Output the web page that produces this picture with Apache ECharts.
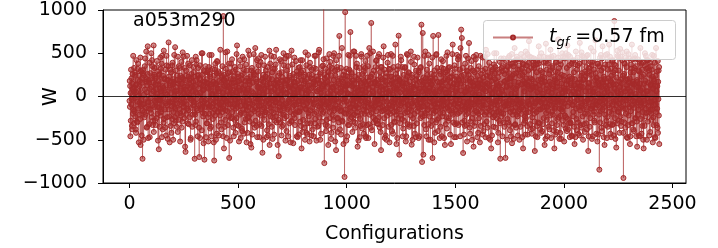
<!DOCTYPE html>
<html>
<head>
<meta charset="utf-8">
<script src="https://cdn.jsdelivr.net/npm/echarts@6/dist/echarts.min.js"></script>
<style>html,body{margin:0;padding:0;background:#fff}#c{width:718px;height:248px}</style>
</head>
<body>
<div id="c"></div>
<script>
// One W value per configuration, starting at configuration 0 (read/estimated from the picture)
const wValues = [
-50,180,-120,120,-460,40,-280,310,-90,210,-30,-340,-380,150,260,90,-200,470,-150,60,-310,330,-170,100,-20,280,-230,250,-380,130,-420,50,420,140,-290,-60,-300,190,320,380,-140,10,60,-530,240,-210,120,-70,180,-260,450,-560,300,-110,290,-40,-450,-90,210,160,
-720,-160,270,310,-90,-500,20,240,-180,-240,350,80,440,-210,-30,-130,170,520,200,-360,50,-350,130,260,580,-70,-480,-60,190,-140,160,-320,390,-470,90,200,270,-150,-20,-190,500,110,30,-240,420,350,-100,-330,-280,160,60,590,-410,250,-120,330,-50,230,-280,140,
-330,210,-60,80,-250,340,410,-120,30,-200,290,-510,140,-40,180,-610,250,-130,260,-350,90,-40,450,-220,320,-180,60,-150,380,-470,470,-90,120,-380,240,-20,100,-300,530,-260,70,200,210,-150,-360,40,310,-80,-450,130,470,360,-240,20,-100,190,-490,190,-60,350,
625,-150,230,-230,100,-530,130,310,-70,-340,170,40,280,-420,-110,-60,360,-260,390,-30,140,-500,200,-180,170,-310,480,-120,60,-240,570,-140,300,-280,110,-40,60,-350,190,240,-80,-200,-410,460,30,150,-270,350,-30,180,-150,330,-90,-520,-190,240,70,90,-220,400,
-360,150,-20,220,-290,510,-80,200,-170,460,-120,40,-250,330,-60,110,-580,190,-640,80,240,300,-200,-90,-140,470,120,50,-310,-10,380,-160,230,-320,20,150,190,-240,360,-20,90,-500,-480,210,-40,260,-130,420,120,-350,60,-210,170,-100,340,-60,280,-70,230,-190,
-720,120,-210,180,-330,460,-290,50,370,420,-140,-30,30,240,-460,-160,330,90,250,-100,-360,-700,150,210,360,-480,40,-90,190,-150,140,-40,500,-390,250,-120,500,-190,70,-230,130,-540,80,300,-60,-730,170,-200,290,-120,350,-40,-470,160,200,-80,-310,-310,280,110,
150,-240,300,-520,90,-130,340,-200,480,-110,260,-370,230,-50,110,-350,140,-460,480,-120,30,20,320,-190,-260,170,-80,170,-530,240,-740,60,-150,310,-220,380,-60,150,-500,130,-20,270,-430,410,-110,400,-170,90,-180,290,-340,60,-450,180,270,-90,-20,-220,540,-140,
90,-300,160,-380,220,-70,240,-180,350,-140,40,-460,930,-110,190,-600,250,-30,190,-350,120,-270,510,-160,320,-60,210,-50,-480,130,520,-170,60,-330,270,-90,110,-230,380,-710,160,20,280,-510,90,-90,200,-250,380,-40,150,-240,430,-180,40,-120,290,200,-360,70,
-460,230,-90,160,-270,340,-30,120,-420,310,-140,50,-250,490,-330,590,-80,170,-120,260,-20,230,-340,100,-520,180,-60,70,-210,420,350,-110,-480,-190,240,30,140,-370,200,-400,90,460,260,-150,-40,-60,310,-430,430,-190,80,-300,130,-100,180,-260,370,-110,40,-530,
300,-160,210,-420,70,-250,90,530,-120,-230,180,-40,480,-290,140,-80,230,-550,210,-10,-200,-590,300,60,330,-440,-90,-150,160,280,40,-320,490,260,-70,-170,-360,250,10,560,-130,-280,-20,200,-60,170,-340,420,-470,110,-150,290,-30,440,-200,360,-110,110,-470,50,
-320,140,-30,400,-220,90,-100,480,-340,190,-60,-150,-650,210,20,250,-500,170,30,-130,360,-270,90,-210,460,-180,230,-180,300,-50,120,-470,140,-390,60,260,340,-110,-450,-40,190,-320,210,-80,530,-560,150,-20,380,-230,100,-130,470,-170,60,-350,200,280,-40,-490,
-240,320,-100,150,-190,460,-440,80,-30,320,-280,140,-70,370,-230,540,-60,190,-300,120,-150,180,-560,50,-20,240,-270,-690,160,-80,270,-120,430,-160,20,-300,410,-200,110,90,-450,280,-350,180,-40,220,-330,70,-110,500,-210,360,-90,-140,-250,150,440,40,-510,130,
190,-80,-230,-400,470,40,300,-150,190,-130,350,-460,470,-40,110,-60,-310,220,240,60,-180,-530,140,-70,120,-290,530,-280,200,-20,370,-120,90,10,-540,260,-210,170,-100,450,-250,30,-330,120,-190,160,-20,410,-90,240,-460,290,-170,50,-470,180,-60,80,330,-440,
-180,260,-50,340,-170,100,-290,420,-130,110,-340,280,-600,40,190,420,-410,-60,-40,300,-270,230,-100,150,-360,90,-20,180,-500,250,510,-140,30,-150,360,-420,70,-80,200,-440,130,-310,480,-190,60,-230,250,-40,130,-520,340,390,-60,-160,-310,210,90,20,-450,310,
250,-130,-40,-380,200,110,150,-460,330,-90,170,-200,470,-70,-310,-260,140,470,320,-30,-180,-510,230,60,60,-350,190,200,-110,-20,-340,510,80,540,-240,150,-120,260,-500,280,-80,40,-430,180,-150,90,-290,350,-200,120,-60,360,-180,430,1150,-40,140,-770,250,-120,
210,-90,320,-330,160,-400,440,-10,-270,-60,230,110,170,-340,40,-560,280,-130,290,-70,490,-180,350,-250,400,-120,60,-20,-490,240,-420,140,-50,330,-210,100,110,-360,470,-270,30,190,500,-160,-40,-140,300,-520,240,-100,120,-620,420,-30,60,-250,340,310,-140,-410,
-250,150,-60,180,-300,470,700,-120,40,-380,210,-170,90,330,-440,-160,60,200,560,-280,110,-290,170,-30,250,-550,140,-60,290,-190,-930,80,-20,975,-150,240,-200,120,-510,320,-60,190,-460,230,40,140,-330,480,30,-200,-90,-330,310,130,470,-130,-260,745,20,-180,
-120,280,-240,260,-40,120,-410,190,-80,180,-290,520,-50,150,-210,520,-140,40,-300,230,-360,90,-110,470,-220,340,-20,380,-180,100,-580,60,-130,200,-510,250,-30,180,-90,330,-470,30,-260,120,-340,150,-50,490,460,-200,80,-370,260,-10,70,-320,190,-150,350,-430,
290,-110,170,-200,330,-60,410,-460,50,-480,140,-170,120,-330,470,-70,220,-120,350,-40,-480,-320,180,90,560,-210,30,-140,500,-90,230,-360,150,850,-80,-190,-390,260,110,60,-150,520,-240,40,-300,300,-120,200,-550,150,-30,170,-270,340,-100,410,-170,420,-60,-310,
-280,190,-40,130,-320,460,-30,150,-240,490,-90,60,-360,280,-130,220,-410,340,-620,110,-20,340,-170,200,-120,30,-330,80,450,-160,580,-60,120,-250,310,-480,180,-10,-150,-450,230,90,270,-500,40,-60,170,-220,390,-130,480,-180,60,-350,40,320,-100,-530,140,230,
310,-200,70,-140,490,-330,230,-60,150,-400,180,-110,470,-430,20,-70,340,-180,160,-290,90,-300,210,-40,600,-120,260,-210,100,-550,80,-170,310,-480,220,-60,350,-250,130,703,-40,180,-672,200,-150,190,-310,50,-100,460,-220,420,-80,-30,-260,150,340,130,-460,80,
-370,160,-70,250,-280,110,-20,330,-190,340,-120,40,-520,200,-460,150,-40,490,-180,230,-320,480,-100,60,-90,280,-150,270,-350,170,-330,90,-10,60,-220,520,400,-160,120,-557,250,-80,220,-500,30,-250,140,-110,110,-340,460,370,-50,-200,-430,190,80,30,-470,300,
200,-60,130,-310,240,-170,450,-90,20,-120,300,-480,280,-140,90,-460,170,-30,90,-250,330,340,-70,-200,830,-120,180,-757,60,-230,734,-40,140,-672,220,-110,160,-330,470,-220,90,-20,520,-190,210,-380,130,-460,70,310,-90,250,-160,40,-150,480,-320,-500,190,60,
380,-230,100,-60,170,-500,210,-20,260,-340,140,-110,140,-280,450,-711,190,-50,700,-160,80,-190,250,-530,300,-90,40,-420,210,-170,60,-300,480,490,-120,20,-270,330,-80,170,-400,120,711,-40,-250,-130,290,60,-480,160,-190,260,-350,90,-50,430,-120,330,-460,170,
-230,120,-40,410,-190,260,-100,320,-480,190,-60,80,-560,210,-140,280,-320,40,-10,470,-240,-370,300,-70,510,-130,190,120,-280,330,-250,50,-160,340,-100,220,-440,160,-20,80,-550,270,230,-60,-190,-160,490,110,600,-210,30,-300,140,-90,150,-470,360,-80,200,-320,
320,-150,60,-470,230,-30,90,-310,480,-200,140,-120,430,-80,200,-330,460,-190,180,-40,310,-40,-460,150,560,-170,70,773,-110,240,676,-300,20,-100,330,-150,-653,180,-60,250,-440,110,-280,50,-340,380,-140,190,-120,470,-210,60,-330,300,-520,100,-70,290,-190,440,
-150,250,-60,618,-130,190,-360,80,-430,170,-290,330,-70,210,-140,410,-30,-500,-250,160,40,300,-200,120,-580,460,-90,120,-340,280,20,-110,180,-300,430,-40,480,-170,90,-180,310,-470,240,-60,150,-420,120,-200,350,-250,20,-60,190,-530,190,-20,470,-340,140,-110,
260,-180,90,-130,300,-440,450,-50,140,-400,220,-100,80,-320,460,-210,170,-20,320,-470,60,540,-90,-180,-290,240,110,150,-360,490,-30,280,-140,-480,130,-50,390,-210,230,-160,70,-500,220,-120,340,-600,180,-80,290,-450,30,40,310,-190,-240,100,-350,370,-60,500,
-90,270,-220,200,-140,340,-360,90,-50,500,-250,160,-180,310,-100,130,-530,220,-420,40,-170,280,-280,120,-50,400,-310,-719,150,-20,440,-190,80,-230,330,-130,60,-460,290,350,-70,-200,-300,440,20,170,-350,260,-110,180,-60,-710,300,-150,410,-90,110,120,-500,350,
-260,200,-100,340,-300,450,-80,270,-330,470,-40,210,-390,130,-180,210,-460,380,30,-140,490,-540,240,-60,380,-210,100,-170,350,-490,260,-80,170,560,-330,30,-320,420,-120,90,-360,270,-210,460,-40,430,-230,120,-450,310,-170,160,-90,360,-40,-500,240,310,-150,-70,
-350,430,-80,490,-200,140,-130,320,-470,250,-60,380,-600,180,-150,370,-310,460,60,280,-230,-280,150,-440,520,-250,210,-190,360,-110,140,-340,490,-440,120,-60,300,-180,390,640,-90,170,-90,460,-320,210,-140,80,-380,330,-30,450,-430,200,-240,120,-370,100,400,-160,
360,-110,440,-200,330,-290,-630,150,-80,420,-460,110,-60,370,-180,280,-340,50,-470,410,-40,190,-300,380,580,-150,130,-310,460,-60,80,-380,300,-150,200,-420,500,-70,160,-400,280,-130,230,-320,30,-30,460,-250,390,-120,220,-560,170,-70,170,-490,400,610,-190,90,
-270,310,-120,130,-460,380,450,-160,60,-350,440,-30,260,-380,170,-90,300,-220,540,-50,140,-480,460,-100,40,-310,350,330,-170,90,-210,120,-390,470,-30,230,-600,200,-140,180,-440,290,-120,390,-60,400,-410,110,-330,160,-260,280,-70,450,660,-240,20,-50,330,-490,
220,-140,410,-420,80,-220,370,-490,150,-150,250,-60,500,-170,40,-280,460,-120,100,-330,240,-520,190,-80,440,-220,90,60,-370,500,-240,140,-30,330,-400,180,590,-110,-260,-380,480,60,190,-310,360,-70,230,-470,460,-40,-300,-310,150,20,130,-450,380,-460,210,-90,
410,-100,-230,-180,420,60,280,-350,130,-550,200,-60,30,-470,370,520,-140,90,-260,310,-390,150,-40,450,360,-300,40,-430,160,-120,90,380,-450,620,-160,200,-330,120,-20,240,-360,510,-110,270,-80,470,-230,110,-500,190,-140,200,-320,450,400,-60,-410,-200,290,60,
-60,230,-310,340,-130,470,-380,270,-40,480,-200,100,-630,150,-460,160,-70,330,290,-350,60,-250,400,-140,560,-20,250,-140,360,-490,400,-110,130,-460,60,-210,50,520,-170,310,-280,90,-300,190,-50,650,-130,270,-90,-430,210,220,-60,380,-520,170,-100,380,-440,30,
140,-210,350,-846,120,-60,450,-300,190,-170,480,-20,300,-360,110,-400,440,-150,580,-90,170,-40,330,-470,230,-120,40,-560,200,-210,370,-50,480,120,-330,160,-280,90,-480,490,-240,60,-350,310,-100,210,-30,370,600,-180,130,-130,460,-320,-430,180,20,320,-470,240,
-200,160,-330,410,-90,420,-320,280,-60,140,-450,370,873,-150,90,-250,300,-490,360,-40,140,-590,220,-100,60,-310,530,470,-170,40,-180,460,-280,300,-80,170,-420,110,-30,550,-230,460,30,-340,200,-290,150,-120,420,-60,510,-140,240,-420,-942,90,-40,260,-300,380,
380,-140,60,-360,450,-200,190,-40,340,520,-470,130,-480,200,-90,90,-330,490,-220,160,-20,440,-120,210,-550,60,-460,280,-170,370,20,320,-310,600,-100,150,-310,430,-50,170,-380,280,-400,140,-130,330,-60,440,480,-250,30,-250,350,-460,110,-290,190,-580,170,-70,
430,-210,110,-150,300,-450,290,-40,400,-460,150,-100,560,-260,70,-70,380,-430,230,-120,310,-340,90,-180,390,-500,30,-600,250,-50,150,-340,360,500,-80,180,-230,470,-140,320,-190,60,-500,420,-20,60,-290,330,420,-110,160,-180,300,-450,250,-60,390,-410,130,-150,
350,-200,140,-270,310,-60,480,-150,230,-530,90,-240,200,-330,470,-100,180,-40,390,-470,120,-480,240,-90,560,-180,60,-330,290,-140,120,-360,410,-420,170,-30,300,-220,340,-550
];
const xTicks = [0, 500, 1000, 1500, 2000, 2500];
const yTicks = [-1000, -500, 0, 500, 1000];
const xRange = [-122, 2562];
const titleText = 'a053m290';

const seriesData = wValues.map((v, i) => [i, v]);
const FONT = 'DejaVu Sans';
const minus = v => (v < 0 ? '\u2212' + Math.abs(v) : String(v));

const chart = echarts.init(document.getElementById('c'), null, {renderer: 'canvas'});
chart.setOption({
  animation: false,
  backgroundColor: '#fff',
  grid: {left: 103, top: 10, right: 32, bottom: 65, show: true, borderColor: '#000', borderWidth: 1,
         backgroundColor: 'transparent', containLabel: false, outerBoundsMode: 'none'},
  graphic: [
    {
      type: 'text', left: 133, top: 12, z: 10,
      style: {text: titleText, font: '19px "DejaVu Sans"', fill: '#000'}
    },
    {
      type: 'rect', left: 483, top: 20, z: 4, silent: true,
      shape: {width: 192, height: 39, r: 3},
      style: {fill: 'rgba(255,255,255,0.8)', stroke: '#cccccc', lineWidth: 1}
    }
  ],
  legend: {
    data: ['tgf'],
    left: 483, top: 20, z: 5,
    padding: [8, 0, 8, 9],
    itemWidth: 40, itemHeight: 5,
    backgroundColor: 'transparent', borderWidth: 0,
    formatter: () => '{t|t}{s|gf}{r| =0.57 fm}',
    textStyle: {
      color: '#000', fontFamily: FONT, fontSize: 19,
      rich: {
        t: {fontFamily: FONT, fontSize: 19, fontStyle: 'italic', padding: [0, 0, 0, 11]},
        s: {fontFamily: FONT, fontSize: 13, fontStyle: 'italic', padding: [10, 0, 0, 0]},
        r: {fontFamily: FONT, fontSize: 19}
      }
    }
  },
  xAxis: {
    type: 'value', min: xRange[0], max: xRange[1],
    name: 'Configurations', nameLocation: 'middle', nameGap: 42, nameMoveOverlap: false,
    nameTextStyle: {fontFamily: FONT, fontSize: 19, color: '#000'},
    axisLine: {show: true, onZero: false, lineStyle: {color: '#000', width: 1}},
    axisTick: {show: true, inside: false, length: 5, customValues: xTicks, lineStyle: {color: '#000', width: 1}},
    axisLabel: {customValues: xTicks, fontFamily: FONT, fontSize: 19, color: '#000', margin: 12, formatter: v => String(v)},
    splitLine: {show: false}
  },
  yAxis: {
    type: 'value', min: yTicks[0], max: yTicks[yTicks.length - 1], interval: 500,
    name: 'W', nameLocation: 'middle', nameGap: 42, nameMoveOverlap: false,
    nameTextStyle: {fontFamily: FONT, fontSize: 19, color: '#000'},
    axisLine: {show: true, onZero: false, lineStyle: {color: '#000', width: 1}},
    axisTick: {show: true, inside: false, length: 5, lineStyle: {color: '#000', width: 1}},
    axisLabel: {fontFamily: FONT, fontSize: 19, color: '#000', margin: 16, formatter: minus},
    splitLine: {show: false}
  },
  series: [
    {
      name: 'tgf', type: 'line', data: seriesData,
      symbol: 'circle', symbolSize: 5, showAllSymbol: true, sampling: null, large: false,
      lineStyle: {color: 'rgba(165,42,42,0.6)', width: 0.8},
      itemStyle: {color: 'rgba(165,42,42,0.55)', borderColor: 'rgb(165,42,42)', borderWidth: 1},
      emphasis: {disabled: true}, z: 2
    },
    {
      name: 'zero', type: 'line', data: [[xRange[0], 0], [xRange[1], 0]],
      symbol: 'none', silent: true,
      lineStyle: {color: 'rgba(0,0,0,0.8)', width: 1}, z: 3
    }
  ]
});
</script>
</body>
</html>
